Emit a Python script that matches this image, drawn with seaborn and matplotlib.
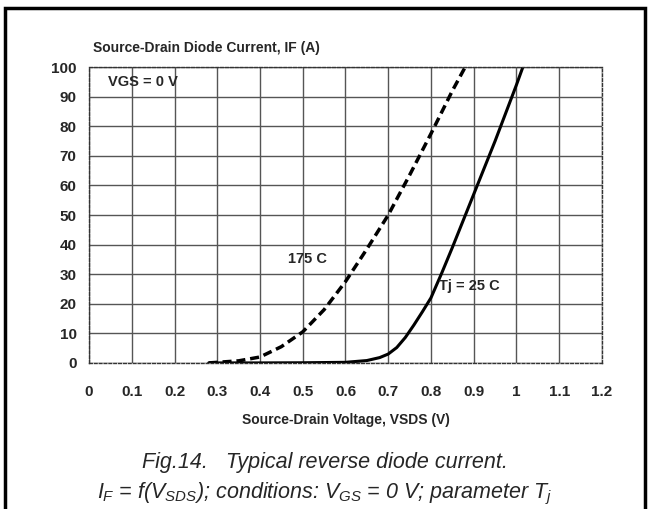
import numpy as np
import pandas as pd
import matplotlib
matplotlib.use("Agg")
import matplotlib.pyplot as plt
import seaborn as sns
from matplotlib.patches import Rectangle

# values
v_25c = [0.28, 0.40, 0.50, 0.60, 0.65, 0.68, 0.70, 0.72, 0.74, 0.76, 0.78, 0.80, 0.825,
         0.85, 0.875, 0.90, 0.95, 1.00, 1.015]
i_25c = [0.0, 0.0, 0.05, 0.2, 0.8, 1.8, 3.0, 5.2, 8.6, 12.8, 17.3, 22.0, 30.3,
         39.0, 48.0, 57.0, 75.0, 94.0, 100.0]

v_175c = [0.28, 0.30, 0.35, 0.40, 0.45, 0.50, 0.55, 0.60, 0.65, 0.70, 0.75, 0.80, 0.85, 0.88]
i_175c = [0.0, 0.2, 0.7, 2.0, 5.5, 10.5, 18.0, 27.5, 38.5, 50.0, 63.5, 77.5, 92.0, 100.0]

x_ticks = [0, 0.1, 0.2, 0.3, 0.4, 0.5, 0.6, 0.7, 0.8, 0.9, 1.0, 1.1, 1.2]
x_ticklabels = ["0", "0.1", "0.2", "0.3", "0.4", "0.5", "0.6", "0.7", "0.8", "0.9", "1", "1.1", "1.2"]
y_ticks = list(range(0, 101, 10))

df25 = pd.DataFrame({"V": v_25c, "I": i_25c})
df175 = pd.DataFrame({"V": v_175c, "I": i_175c})

sns.set_style("white")
plt.rcParams["font.family"] = ["Liberation Sans", "DejaVu Sans"]
plt.rcParams["mathtext.fontset"] = "custom"
plt.rcParams["mathtext.it"] = "Liberation Sans:italic"
plt.rcParams["mathtext.rm"] = "Liberation Sans:italic"
plt.rcParams["mathtext.default"] = "it"

fig = plt.figure(figsize=(6.5, 5.09), dpi=100)
ax = fig.add_axes([0.137, 0.287, 0.789, 0.581])

sns.lineplot(data=df175, x="V", y="I", ax=ax, color="black", linewidth=2.5,
             linestyle=(0, (2.6, 1.4)), estimator=None, sort=False)
sns.lineplot(data=df25, x="V", y="I", ax=ax, color="black", linewidth=2.2,
             estimator=None, sort=False)

ax.set_xlim(0, 1.2)
ax.set_ylim(0, 100)
ax.set_xticks(x_ticks)
ax.set_xticklabels(x_ticklabels)
ax.set_yticks(y_ticks)
ax.grid(True, color="#555555", linewidth=1.0, linestyle="-")
ax.set_axisbelow(True)

for s in ax.spines.values():
    s.set_visible(True)
    s.set_color("#333333")
    s.set_linewidth(1.0)
    s.set_linestyle((0, (2, 1.5)))

ax.tick_params(axis="both", direction="out", length=4, width=0.8, color="#333333",
               labelsize=11, pad=5)
for lab in ax.get_xticklabels() + ax.get_yticklabels():
    lab.set_fontweight("bold")
ax.tick_params(axis="x", pad=12)

ax.set_xlabel("Source-Drain Voltage, VSDS (V)", fontsize=10, fontweight="bold", labelpad=10)
ax.set_ylabel("")
fig.text(0.143, 0.905, "Source-Drain Diode Current, IF (A)", fontsize=10,
         fontweight="bold", ha="left", va="center")

ax.text(0.045, 95, "VGS = 0 V", fontsize=10.5, fontweight="bold", ha="left", va="center")
ax.text(0.465, 35, "175 C", fontsize=10.5, fontweight="bold", ha="left", va="center")
ax.text(0.82, 26, "Tj = 25 C", fontsize=10.5, fontweight="bold", ha="left", va="center")

fig.text(0.5, 0.092, "Fig.14.   Typical reverse diode current.", fontsize=15.5,
         style="italic", ha="center", va="center")
fig.text(0.5, 0.030, r"$I_F$ = f($V_{SDS}$); conditions: $V_{GS}$ = 0 V; parameter $T_j$",
         fontsize=15.5, style="italic", ha="center", va="center")

# outer frame around the figure
frame = Rectangle((0.0075, -0.05), 0.985, 1.035, transform=fig.transFigure,
                  fill=False, edgecolor="black", linewidth=2.5, clip_on=False)
fig.patches.append(frame)

fig.savefig("out.png", dpi=100)
